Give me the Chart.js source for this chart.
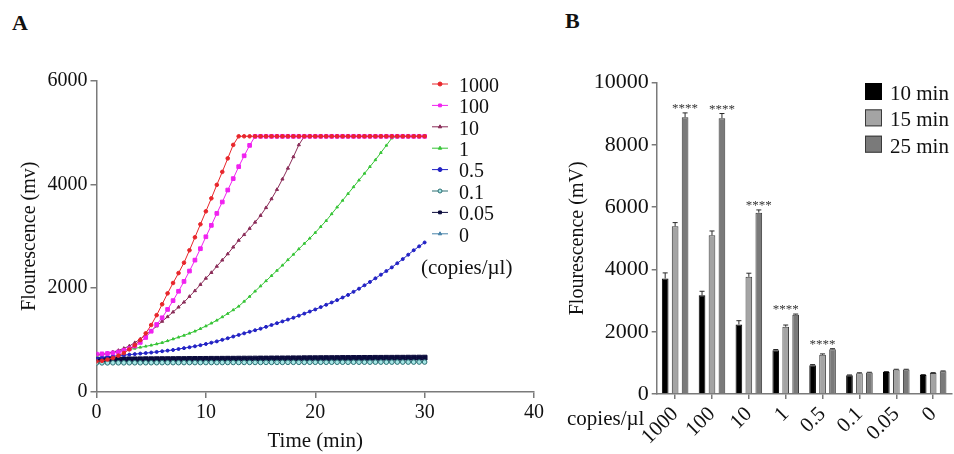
<!DOCTYPE html>
<html><head><meta charset="utf-8">
<script src="https://cdn.jsdelivr.net/npm/chart.js@4.4.1/dist/chart.umd.min.js"></script>
<style>
html,body{margin:0;padding:0;background:#fff;width:954px;height:454px;overflow:hidden;}
#wa{position:absolute;left:0;top:0;width:560px;height:454px;}
#wb{position:absolute;left:560px;top:0;width:394px;height:454px;}
.pl{position:absolute;font-family:'Liberation Serif','Times New Roman',serif;font-weight:bold;font-size:22px;line-height:22px;color:#111;}
.fp{position:absolute;left:-1000px;top:0;font-family:'Liberation Serif';font-size:20px;}
</style></head><body>
<div class="fp">Flourescence 0123456789 µ</div>
<div class="pl" style="left:12px;top:12px">A</div>
<div class="pl" style="left:565px;top:10px">B</div>
<div id="wa"><canvas id="ca" width="560" height="454"></canvas></div>
<div id="wb"><canvas id="cb" width="394" height="454"></canvas></div>
<script>
// ---------- Panel A data ----------
const timeA = [0,0.5,1,1.5,2,2.5,3,3.5,4,4.5,5,5.5,6,6.5,7,7.5,8,8.5,9,9.5,10,10.5,11,11.5,12,12.5,13,13.5,14,14.5,15,15.5,16,16.5,17,17.5,18,18.5,19,19.5,20,20.5,21,21.5,22,22.5,23,23.5,24,24.5,25,25.5,26,26.5,27,27.5,28,28.5,29,29.5,30];
const seriesLabelsA = ['1000','100','10','1','0.5','0.1','0.05','0'];
const c1000 = [590,600,625,655,700,750,820,900,1000,1130,1290,1480,1690,1900,2100,2290,2490,2730,2980,3230,3480,3730,3990,4240,4500,4760,
  4925,4925,4925,4925,4925,4925,4925,4925,4925,4925,4925,4925,4925,4925,4925,4925,4925,4925,4925,4925,4925,4925,4925,4925,4925,4925,4925,4925,4925,4925,4925,4925,4925,4925,4925];
const c100 = [730,735,742,752,770,800,835,885,955,1050,1170,1300,1430,1590,1760,1940,2130,2330,2540,2760,2990,3210,3440,3660,3890,4110,4340,4550,4750,
  4925,4925,4925,4925,4925,4925,4925,4925,4925,4925,4925,4925,4925,4925,4925,4925,4925,4925,4925,4925,4925,4925,4925,4925,4925,4925,4925,4925,4925,4925,4925,4925];
const c10 = [720,728,745,770,800,840,885,950,1020,1100,1180,1270,1360,1450,1540,1635,1730,1840,1950,2070,2190,2300,2420,2540,2660,2790,2920,3030,3150,3270,3400,3550,3720,3900,4100,4310,4530,4760,
  4925,4925,4925,4925,4925,4925,4925,4925,4925,4925,4925,4925,4925,4925,4925,4925,4925,4925,4925,4925,4925,4925,4925];
const c1 = [700,720,740,765,790,805,820,840,860,880,900,925,950,985,1020,1055,1090,1130,1170,1220,1270,1325,1380,1445,1510,1580,1650,1745,1840,1940,2040,2140,2240,2340,2440,2545,2650,2755,2860,2960,3070,3185,3300,3430,3560,3690,3820,3950,4080,4210,4340,4470,4610,4750,4890,
  4925,4925,4925,4925,4925,4925];
const c05 = [650,665,680,690,700,710,720,730,740,750,760,772,785,797,810,828,845,862,880,902,925,950,975,1005,1035,1068,1100,1130,1160,1190,1220,1255,1290,1325,1360,1395,1430,1470,1510,1550,1590,1635,1680,1725,1770,1820,1870,1930,1990,2055,2120,2190,2260,2330,2400,2480,2560,2645,2730,2805,2880];
const c01 = [560,561,561,562,562,562,563,563,563,564,564,564,565,565,565,565,566,566,566,566,567,567,567,567,568,568,568,569,569,569,569,570,570,570,570,571,571,571,571,572,572,572,572,573,573,573,573,574,574,574,574,575,575,575,575,576,576,576,576,577,577];
const c005 = [625,625,626,627,627,628,629,629,630,631,631,632,633,633,634,635,635,636,637,637,638,639,639,640,641,641,642,643,643,644,645,645,646,647,647,648,649,649,650,651,651,652,653,653,654,655,655,656,656,657,657,658,658,659,659,660,660,661,661,662,662];
const c0 = [598,598,598,599,599,599,600,600,600,601,601,601,602,602,602,603,603,603,604,604,604,605,605,605,606,606,606,607,607,607,608,608,608,609,609,609,610,610,610,611,611,611,612,612,612,613,613,613,614,614,614,615,615,615,616,616,616,617,617,617,618];
const seriesA = [c1000,c100,c10,c1,c05,c01,c005,c0];
const yTicksA = [0,2000,4000,6000];
const xTicksA = [0,10,20,30,40];
const xTitleA = 'Time (min)';
const yTitleA = 'Flourescence (mv)';
const unitsA = '(copies/\u00b5l)';

// ---------- Panel B data ----------
const categoriesB = ['1000','100','10','1','0.5','0.1','0.05','0'];
const seriesLabelsB = ['10 min','15 min','25 min'];
const min10 = [3710,3170,2235,1409,925,602,710,613];
const min15 = [5386,5097,3763,2161,1258,667,785,677];
const min25 = [8890,8860,5826,2548,1441,688,785,731];
const err10 = [180,130,120,20,20,10,10,10];
const err15 = [120,140,117,55,30,15,10,10];
const err25 = [140,150,87,20,15,10,10,10];
const starText = ['****','****','****','****','****','','',''];
const starAnchor = [2,2,2,1,1,-1,-1,-1];
const yTicksB = [0,2000,4000,6000,8000,10000];
const yTitleB = 'Flourescence (mV)';
const xUnitB = 'copies/\u00b5l';

// ---------- styles ----------
const FONT = "'Liberation Serif', 'Times New Roman', serif";
const TXT = '#111';
const AX = '#7a7a7a';
const stylesA = [
  {c:'#e8262b', bg:'#e8262b', ps:'circle',   r:1.8},
  {c:'#f022f0', bg:'#f022f0', ps:'rect',     r:2.6},
  {c:'#8a2c58', bg:'#8a2c58', ps:'triangle', r:1.8},
  {c:'#36c436', bg:'#36c436', ps:'triangle', r:1.5},
  {c:'#2222c4', bg:'#2222c4', ps:'circle',   r:1.5},
  {c:'#2a6e72', bg:'#a6e6e6', ps:'circle',   r:2.3},
  {c:'#0b0b3c', bg:'#0b0b3c', ps:'rect',     r:3.4},
  {c:'#4682a8', bg:'#4682a8', ps:'triangle', r:1.5}
];
const fillsB = ['#000000','#a4a4a4','#7a7a7a'];
const bordersB = ['#000000','#3a3a3a','#3a3a3a'];
const errsB = [err10,err15,err25];

// ---------- plugins ----------
const legendA = {
  id:'legendA',
  afterDraw(chart){
    const ctx = chart.ctx;
    ctx.save();
    chart.data.datasets.forEach((ds,i)=>{
      const y = 84 + i*21.4;
      ctx.strokeStyle = ds.borderColor; ctx.lineWidth = 1;
      ctx.beginPath(); ctx.moveTo(432,y); ctx.lineTo(448,y); ctx.stroke();
      ctx.fillStyle = ds.pointBackgroundColor; ctx.strokeStyle = ds.pointBorderColor;
      Chart.helpers.drawPoint(ctx,{pointStyle:ds.pointStyle, radius:2, borderWidth:1, rotation:0},440,y);
      ctx.fillStyle = TXT; ctx.font = '20px ' + FONT; ctx.textAlign='left'; ctx.textBaseline='alphabetic';
      ctx.fillText(ds.label, 459, y+7.7);
    });
    ctx.font = '21px ' + FONT;
    ctx.fillText(unitsA, 421, 274);
    ctx.restore();
  }
};
const errPlugin = {
  id:'errB',
  afterDatasetsDraw(chart){
    const ctx = chart.ctx, ys = chart.scales.y;
    ctx.save(); ctx.strokeStyle = '#2a2a2a'; ctx.lineWidth = 1;
    errsB.forEach((errs,di)=>{
      const meta = chart.getDatasetMeta(di);
      meta.data.forEach((bar,j)=>{
        const v = chart.data.datasets[di].data[j];
        const y0 = ys.getPixelForValue(v), y1 = ys.getPixelForValue(v+errs[j]);
        ctx.beginPath(); ctx.moveTo(bar.x,y0); ctx.lineTo(bar.x,y1);
        ctx.moveTo(bar.x-2.5,y1); ctx.lineTo(bar.x+2.5,y1); ctx.stroke();
      });
    });
    ctx.fillStyle = '#333'; ctx.font = '13px ' + FONT; ctx.textAlign='center'; ctx.textBaseline='alphabetic';
    starText.forEach((t,j)=>{
      if(!t) return;
      let top = 0;
      chart.data.datasets.forEach((ds,di)=>{ top = Math.max(top, ds.data[j]+errsB[di][j]); });
      const x = chart.getDatasetMeta(starAnchor[j]).data[j].x;
      ctx.fillText(t, x, ys.getPixelForValue(top)-1);
    });
    ctx.restore();
  }
};
const legendB = {
  id:'legendB',
  afterDraw(chart){
    const ctx = chart.ctx;
    ctx.save();
    chart.data.datasets.forEach((ds,i)=>{
      const top = 83 + i*26.35;
      ctx.fillStyle = ds.backgroundColor; ctx.fillRect(305,top,17,17);
      ctx.strokeStyle = ds.borderColor; ctx.lineWidth = 1; ctx.strokeRect(305.5,top+0.5,16,16);
      ctx.fillStyle = TXT; ctx.font = '21px ' + FONT; ctx.textAlign='left'; ctx.textBaseline='alphabetic';
      ctx.fillText(ds.label, 330, top+17);
    });
    ctx.font = '21px ' + FONT;
    ctx.fillText(xUnitB, 7, 425);
    ctx.restore();
  }
};

function draw(){
// ---------- Chart A ----------
new Chart(document.getElementById('ca'), {
  type:'line',
  data:{ datasets: seriesA.map((s,i)=>({
    label: seriesLabelsA[i],
    data: timeA.map((t,j)=>({x:t, y:s[j]})),
    borderColor: stylesA[i].c, backgroundColor: stylesA[i].bg,
    pointBackgroundColor: stylesA[i].bg, pointBorderColor: stylesA[i].c,
    pointStyle: stylesA[i].ps, pointRadius: stylesA[i].r, pointBorderWidth: 1,
    borderWidth: 1, tension: 0, fill: false
  }))},
  options:{
    responsive:false, animation:false, devicePixelRatio:1,
    layout:{padding:{top:80.5,right:26,bottom:0,left:0}},
    plugins:{legend:{display:false}, tooltip:{enabled:false}},
    scales:{
      x:{type:'linear', min:0, max:40,
        afterBuildTicks:s=>{s.ticks = xTicksA.map(v=>({value:v}));},
        afterFit:s=>{s.height = 62;},
        ticks:{font:{family:FONT,size:20}, color:TXT, padding:3, maxRotation:0, callback:v=>String(v)},
        grid:{display:true, drawOnChartArea:false, drawTicks:true, tickLength:6, color:AX, lineWidth:1.5},
        border:{display:true, color:AX, width:1.5},
        title:{display:true, text:xTitleA, font:{family:FONT,size:21}, color:TXT, padding:{top:0,bottom:0}}},
      y:{type:'linear', min:0, max:6000,
        afterBuildTicks:s=>{s.ticks = yTicksA.map(v=>({value:v}));},
        afterFit:s=>{s.width = 96.5;},
        ticks:{font:{family:FONT,size:20}, color:TXT, padding:3, callback:v=>String(v)},
        grid:{display:true, drawOnChartArea:false, drawTicks:true, tickLength:6, color:AX, lineWidth:1.5},
        border:{display:true, color:AX, width:1.5},
        title:{display:true, text:yTitleA, font:{family:FONT,size:20}, color:TXT, padding:{top:18,bottom:0}}}
    }
  },
  plugins:[legendA]
});

// ---------- Chart B ----------
new Chart(document.getElementById('cb'), {
  type:'bar',
  data:{ labels: categoriesB, datasets: [min10,min15,min25].map((s,i)=>({
    label: seriesLabelsB[i], data: s,
    backgroundColor: fillsB[i], borderColor: bordersB[i], borderWidth: 1,
    categoryPercentage: 0.81, barPercentage: 0.67
  }))},
  options:{
    responsive:false, animation:false, devicePixelRatio:1,
    layout:{padding:{top:82.7,right:0.5,bottom:0,left:0}},
    plugins:{legend:{display:false}, tooltip:{enabled:false}},
    scales:{
      x:{afterFit:s=>{s.height = 60;},
        ticks:{font:{family:FONT,size:21}, color:TXT, padding:3, minRotation:45, maxRotation:45, autoSkip:false},
        grid:{display:true, drawOnChartArea:false, offset:false, drawTicks:true, tickLength:5, color:AX, lineWidth:1.5},
        border:{display:true, color:AX, width:1.5}},
      y:{min:0, max:10000,
        afterBuildTicks:s=>{s.ticks = yTicksB.map(v=>({value:v}));},
        afterFit:s=>{s.width = 96.7;},
        ticks:{font:{family:FONT,size:22}, color:TXT, padding:3, callback:v=>String(v)},
        grid:{display:true, drawOnChartArea:false, drawTicks:true, tickLength:5, color:AX, lineWidth:1.5},
        border:{display:true, color:AX, width:1.5},
        title:{display:true, text:yTitleB, font:{family:FONT,size:20}, color:TXT, padding:{top:6,bottom:0}}}
    }
  },
  plugins:[errPlugin, legendB]
});
}
let drawn = false;
function go(){ if(drawn) return; drawn = true; draw(); }
if (document.fonts && document.fonts.load) {
  Promise.all([document.fonts.load("20px 'Liberation Serif'"), document.fonts.load("bold 20px 'Liberation Serif'")])
    .then(go, go);
  setTimeout(go, 300);
} else { go(); }
</script>
</body></html>
